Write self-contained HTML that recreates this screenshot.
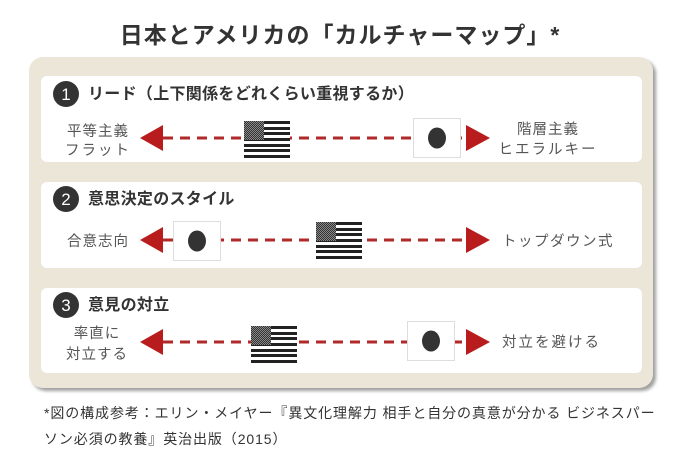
<!DOCTYPE html>
<html><head><meta charset="utf-8"><style>
html,body{margin:0;padding:0;background:#fff;width:680px;height:454px;overflow:hidden}
svg{display:block}
text{font-family:"Liberation Sans","Noto Sans CJK JP",sans-serif}
</style></head><body>
<svg width="680" height="454" viewBox="0 0 680 454" xmlns="http://www.w3.org/2000/svg">
<defs>
<pattern id="chk" width="2" height="2" patternUnits="userSpaceOnUse"><rect width="2" height="2" fill="#888"/><rect width="1" height="1" fill="#333"/><rect x="1" y="1" width="1" height="1" fill="#333"/></pattern>
<g id="us">
<rect width="46" height="37" fill="#fff"/>
<rect y="0" width="46" height="3" fill="#222"/><rect y="6" width="46" height="3" fill="#222"/><rect y="11" width="46" height="3" fill="#222"/><rect y="17" width="46" height="3" fill="#222"/><rect y="23" width="46" height="3" fill="#222"/><rect y="28" width="46" height="3" fill="#222"/><rect y="34" width="46" height="3" fill="#222"/>
<rect width="20" height="19" fill="url(#chk)"/>
</g>
<g id="jp">
<rect x="0.5" y="0.5" width="47" height="39" fill="#fff" stroke="#ddd"/>
<ellipse cx="24" cy="20" rx="9" ry="10.5" fill="#333"/>
</g>
<filter id="sh" x="-5%" y="-5%" width="110%" height="110%"><feDropShadow dx="3" dy="3" stdDeviation="1.5" flood-color="#888" flood-opacity="0.8"/></filter>
</defs>
<text x="340" y="43" text-anchor="middle" font-size="23" font-weight="bold" fill="#333" letter-spacing="1">日本とアメリカの「カルチャーマップ」*</text>
<rect x="29" y="57" width="624" height="331" rx="14" fill="#ece6d9" filter="url(#sh)"/>
<rect x="41" y="76" width="601" height="86" rx="6" fill="#fff"/>
<rect x="41" y="182" width="601" height="86" rx="6" fill="#fff"/>
<rect x="41" y="288" width="601" height="85" rx="6" fill="#fff"/>

<g fill="#333"><circle cx="66" cy="94" r="13"/><circle cx="66" cy="199" r="13"/><circle cx="66" cy="305" r="13"/></g>
<g fill="#fff" font-size="17" text-anchor="middle"><text x="66" y="100">1</text><text x="66" y="205">2</text><text x="66" y="311">3</text></g>
<g fill="#333" font-size="16" font-weight="bold" letter-spacing="0.3">
<text x="88" y="99">リード（上下関係をどれくらい重視するか）</text>
<text x="88" y="204">意思決定のスタイル</text>
<text x="88" y="310">意見の対立</text>
</g>

<g stroke="#b02a2a" stroke-width="3" stroke-dasharray="10 7">
<line x1="163" y1="138" x2="465" y2="138"/>
<line x1="163" y1="240" x2="465" y2="240"/>
<line x1="163" y1="342" x2="465" y2="342"/>
</g>
<g fill="#b81c1c">
<polygon points="140,138 163,125 163,151"/><polygon points="490,138 466,125 466,151"/>
<polygon points="140,240 163,227 163,253"/><polygon points="490,240 466,227 466,253"/>
<polygon points="140,342 163,329 163,355"/><polygon points="490,342 466,329 466,355"/>
</g>
<use href="#us" x="244" y="121"/>
<use href="#jp" x="413" y="118"/>
<use href="#jp" x="173" y="221"/>
<use href="#us" x="316" y="222"/>
<use href="#us" x="251" y="326"/>
<use href="#jp" x="407" y="321"/>

<g fill="#555" font-size="14.5">
<text x="98" y="136" text-anchor="middle" letter-spacing="1">平等主義</text>
<text x="98" y="155" text-anchor="middle" letter-spacing="2">フラット</text>
<text x="548" y="134" text-anchor="middle" letter-spacing="1">階層主義</text>
<text x="548" y="154" text-anchor="middle" letter-spacing="2">ヒエラルキー</text>
<text x="67" y="246" letter-spacing="1">合意志向</text>
<text x="502" y="246" letter-spacing="1.5">トップダウン式</text>
<text x="97" y="338" text-anchor="middle" letter-spacing="1">率直に</text>
<text x="97" y="359" text-anchor="middle" letter-spacing="1">対立する</text>
<text x="502" y="347" letter-spacing="2">対立を避ける</text>
</g>
<g fill="#333" font-size="14" letter-spacing="0.9">
<text x="44" y="418">*図の構成参考：エリン・メイヤー『異文化理解力 相手と自分の真意が分かる ビジネスパー</text>
<text x="44" y="444">ソン必須の教養』英治出版（2015）</text>
</g>
</svg>
</body></html>
